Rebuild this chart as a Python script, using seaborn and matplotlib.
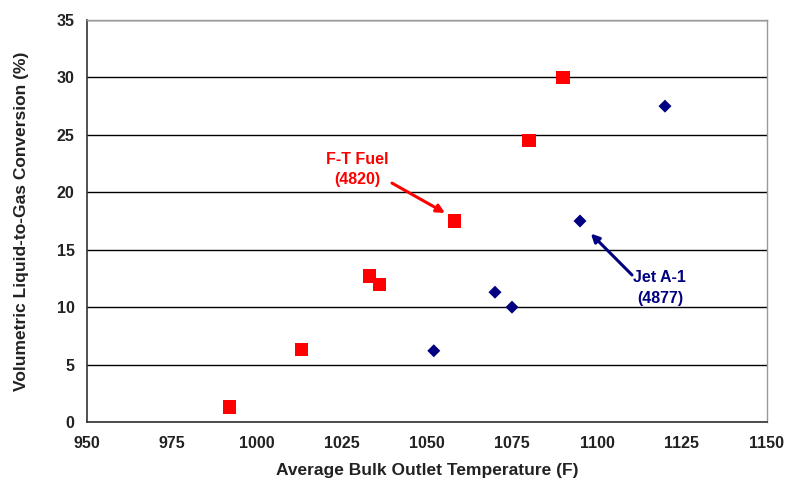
import matplotlib
matplotlib.use("Agg")
import matplotlib.pyplot as plt
import seaborn as sns
import pandas as pd

ft_temp = [992, 1013, 1033, 1036, 1058, 1080, 1090]
ft_conv = [1.3, 6.3, 12.7, 12.0, 17.5, 24.5, 30.0]
jet_temp = [1052, 1070, 1075, 1095, 1120]
jet_conv = [6.2, 11.3, 10.0, 17.5, 27.5]
x_ticks = [950, 975, 1000, 1025, 1050, 1075, 1100, 1125, 1150]
y_ticks = [0, 5, 10, 15, 20, 25, 30, 35]

sns.set_theme(style="white")
plt.rcParams['font.family'] = ['Liberation Sans', 'DejaVu Sans']

fig = plt.figure(figsize=(7.86, 4.83), dpi=100)
ax = fig.add_axes([0.1107, 0.1263, 0.8651, 0.8323])

df_ft = pd.DataFrame({"T": ft_temp, "C": ft_conv})
df_jet = pd.DataFrame({"T": jet_temp, "C": jet_conv})
sns.scatterplot(data=df_ft, x="T", y="C", marker="s", color="#FF0000", s=92,
                edgecolor="none", ax=ax, zorder=3)
sns.scatterplot(data=df_jet, x="T", y="C", marker="D", color="#000080", s=44,
                edgecolor="none", ax=ax, zorder=3)

ax.set_xlim(950, 1150)
ax.set_ylim(0, 35)
ax.set_xticks(x_ticks)
ax.set_yticks(y_ticks)
ax.yaxis.grid(True, color="black", linewidth=1.0)
ax.set_axisbelow(True)
for s in ["left", "bottom"]:
    ax.spines[s].set_color("#333333")
    ax.spines[s].set_linewidth(1.2)
for s in ["top", "right"]:
    ax.spines[s].set_color("#999999")
    ax.spines[s].set_linewidth(1.0)
ax.tick_params(axis="both", which="major", direction="out", length=4, width=1,
               color="#333333", labelsize=11.5, pad=5)
ax.tick_params(axis="x", pad=6)
for lab in ax.get_xticklabels() + ax.get_yticklabels():
    lab.set_fontweight("bold")
    lab.set_color("#222222")

ax.set_xlabel("Average Bulk Outlet Temperature (F)", fontsize=12.5, fontweight="bold",
              color="#222222", labelpad=9)
ax.set_ylabel("Volumetric Liquid-to-Gas Conversion (%)", fontsize=12.5, fontweight="bold",
              color="#222222", labelpad=20)

ax.text(1029.4, 22.0, "F-T Fuel\n(4820)", ha="center", va="center", color="#FF0000",
        fontsize=11.5, fontweight="bold", linespacing=1.45)
ax.annotate("", xy=(1055.3, 18.2), xytext=(1039.7, 20.8),
            arrowprops=dict(arrowstyle="-|>", color="#FF0000", lw=2.2,
                            shrinkA=0, shrinkB=0, mutation_scale=12))
ax.text(1118.5, 11.66, "Jet A-1\n(4877)", ha="center", va="center", color="#000080",
        fontsize=11.5, fontweight="bold", linespacing=1.45)
ax.annotate("", xy=(1098.2, 16.4), xytext=(1110.3, 12.8),
            arrowprops=dict(arrowstyle="-|>", color="#000080", lw=2.2,
                            shrinkA=0, shrinkB=0, mutation_scale=12))

fig.savefig("out.png", dpi=100)
